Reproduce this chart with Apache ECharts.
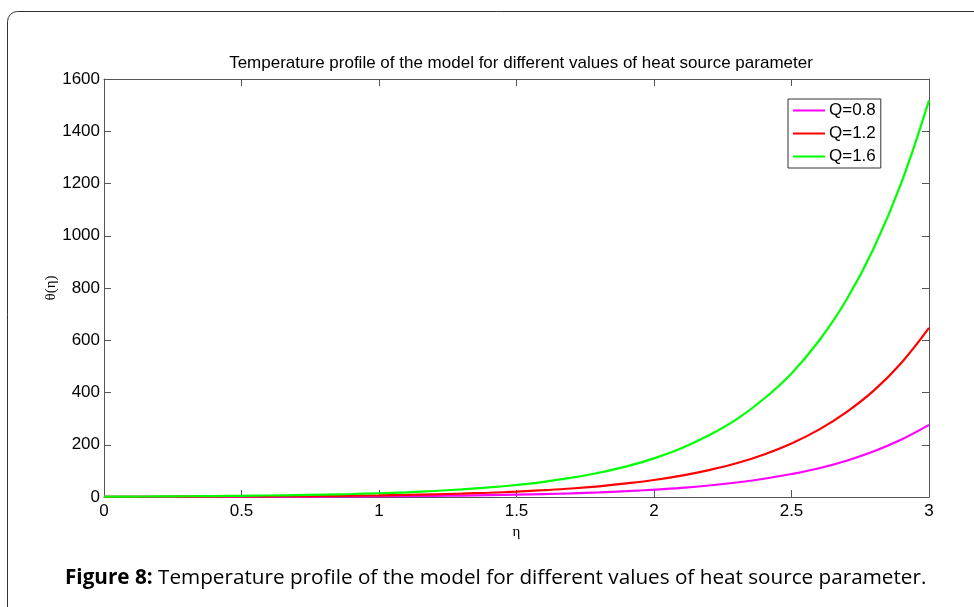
<!DOCTYPE html>
<html>
<head>
<meta charset="utf-8">
<script src="https://cdn.jsdelivr.net/npm/echarts@6/dist/echarts.min.js"></script>
<style>
html,body{margin:0;padding:0;background:#fff;}
#chart{width:974px;height:607px;}
</style>
</head>
<body>
<div id="chart"></div>
<script>
const chartTitle = 'Temperature profile of the model for different values of heat source parameter';
const captionBold = 'Figure 8:';
const captionText = ' Temperature profile of the model for different values of heat source parameter.';
const xName = 'η';
const yName = 'θ(η)';
const seriesNames = ['Q=0.8', 'Q=1.2', 'Q=1.6'];
const seriesColors = ['#ff00ff', '#ff0000', '#00ff00'];

const eta = [0,0.1,0.2,0.3,0.4,0.5,0.6,0.7,0.8,0.9,1.0,1.1,1.2,1.3,1.4,1.5,1.6,1.7,1.8,1.9,2.0,2.1,2.2,2.3,2.4,2.5,2.6,2.7,2.8,2.9,3.0];
const q08 = [0.28,0.35,0.45,0.56,0.7,0.9,1.1,1.4,1.8,2.25,2.8,3.6,4.5,5.6,7.1,8.9,11.2,14,17.7,22.2,28,35,44,55.5,70,88,110,139,175,220,276];
const q12 = [0.65,0.8,1.0,1.3,1.6,2.1,2.6,3.3,4.1,5.2,6.5,8.2,10.3,13,16.3,20.5,26,32.5,41,52,65,82,103,129,163,205,258,325,408,514,647];
const q16 = [1.4,1.8,2.2,2.8,3.6,4.5,5.7,7.2,9,11.4,14.4,18,23,29,36.5,46,58,74,93,117,148,187,236,297,376,473,598,755,954,1204,1518];

const xTicks = {min:0, max:3, interval:0.5};
const yTicks = {min:0, max:1600, interval:200};

const allSeries = [q08, q12, q16];
const axisColor = '#555';
const fontFam = '"Liberation Sans", Arial, sans-serif';
const serifFam = '"Liberation Serif", "DejaVu Serif", serif';

const chart = echarts.init(document.getElementById('chart'), null, {renderer:'canvas'});

function xAxisDef(pos, showLabel) {
  return {
    type:'value', position:pos, min:xTicks.min, max:xTicks.max, interval:xTicks.interval,
    axisLine:{show:true, onZero:false, lineStyle:{color:axisColor, width:1}},
    axisTick:{show:true, inside:true, length:7, lineStyle:{color:axisColor}},
    axisLabel:{show:showLabel, color:'#000', fontSize:17, fontFamily:fontFam, margin:6,
               formatter:v => String(v)},
    splitLine:{show:false}
  };
}
function yAxisDef(pos, showLabel) {
  return {
    type:'value', position:pos, min:yTicks.min, max:yTicks.max, interval:yTicks.interval,
    axisLine:{show:true, onZero:false, lineStyle:{color:axisColor, width:1}},
    axisTick:{show:true, inside:true, length:7, lineStyle:{color:axisColor}},
    axisLabel:{show:showLabel, color:'#000', fontSize:17, fontFamily:fontFam, margin:4,
               formatter:v => String(v)},
    splitLine:{show:false}
  };
}

const xa0 = xAxisDef('bottom', true);
xa0.name = xName; xa0.nameLocation = 'middle'; xa0.nameGap = 28; xa0.nameMoveOverlap = false;
xa0.nameTextStyle = {fontFamily:serifFam, fontSize:15, color:'#000'};
const ya0 = yAxisDef('left', true);
ya0.name = yName; ya0.nameLocation = 'middle'; ya0.nameGap = 45; ya0.nameRotate = 90; ya0.nameMoveOverlap = false;
ya0.nameTextStyle = {fontFamily:serifFam, fontSize:15, color:'#000'};

const option = {
  animation:false,
  backgroundColor:'#fff',
  title:{
    text:chartTitle, left:516, top:50, textAlign:'center',
    textStyle:{fontFamily:fontFam, fontSize:17, fontWeight:'normal', color:'#000'}
  },
  legend:{
    orient:'vertical', left:788, top:99,
    data:seriesNames,
    icon:'rect',
    itemWidth:32, itemHeight:2, itemGap:6,
    padding:[3,5,3,5],
    borderColor:'#333', borderWidth:1, backgroundColor:'#fff',
    textStyle:{fontFamily:fontFam, fontSize:17, color:'#000', lineHeight:17, padding:[0,0,0,-1]}
  },
  grid:{left:104, right:45, top:79, bottom:110, containLabel:false},
  xAxis:[xa0, xAxisDef('top', false)],
  yAxis:[ya0, yAxisDef('right', false)],
  series: allSeries.map((arr, i) => ({
    name:seriesNames[i], type:'line', xAxisIndex:0, yAxisIndex:0,
    data: eta.map((x, j) => [x, arr[j]]),
    symbol:'none', smooth:0.4,
    lineStyle:{color:seriesColors[i], width:2.2},
    itemStyle:{color:seriesColors[i]},
    z:2+i
  })),
  graphic:[
    {type:'rect', shape:{x:7.5, y:11.5, width:1000, height:700, r:10}, style:{fill:'none', stroke:'#333', lineWidth:1}, z:-1, silent:true},
    {type:'text', left:65, top:568, style:{
      rich:{b:{fontWeight:'bold', fontFamily:'"Open Sans", sans-serif', fontSize:20.7, fill:'#000'},
            n:{fontFamily:'"Open Sans", sans-serif', fontSize:20.7, fill:'#000'}},
      text:'{b|' + captionBold + '}{n|' + captionText + '}'
    }}
  ]
};
chart.setOption(option);
</script>
</body>
</html>
